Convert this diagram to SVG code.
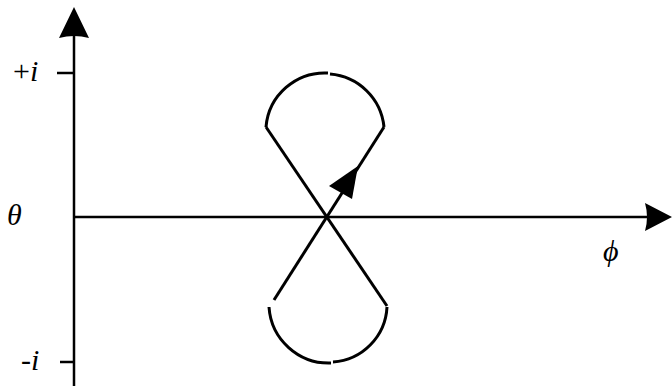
<svg xmlns="http://www.w3.org/2000/svg" width="672" height="386" viewBox="0 0 672 386">
<style>
.ax{stroke:#000;stroke-width:2.5;fill:none}
.ln{stroke:#000;stroke-width:3;fill:none;stroke-linecap:butt}
.lbl{font-family:"Liberation Serif","Times New Roman",serif;font-size:30px;fill:#000}
.it{font-style:italic}
</style>
<rect width="672" height="386" fill="#fff"/>
<g id="axes">
<line class="ax" x1="74" y1="36" x2="74" y2="386"/>
<path d="M74,7 L59,38 Q74,34 89,38 Z" fill="#000"/>
<line class="ax" x1="74" y1="217" x2="648" y2="217"/>
<path d="M672,217 L645,203 Q649,217 645,231 Z" fill="#000"/>
<line class="ax" x1="57" y1="73" x2="74" y2="73"/>
<line class="ax" x1="60" y1="362" x2="74" y2="362"/>
</g>
<g id="labels">
<text class="lbl" x="13" y="81">+<tspan class="it">i</tspan></text>
<text class="lbl it" x="7" y="225">θ</text>
<text class="lbl it" x="21" y="370">-i</text>
<text class="lbl it" x="603" y="261">ϕ</text>
</g>
<g id="curve">
<path class="ln" d="M266,127 A59,59 0 0 1 328,73"/>
<path class="ln" d="M330,74 A59,59 0 0 1 384,127"/>
<line class="ln" x1="266" y1="127" x2="387" y2="306"/>
<line class="ln" x1="274" y1="300" x2="384" y2="127"/>
<path class="ln" d="M269,307 A60,60 0 0 0 331,363"/>
<path class="ln" d="M333,362 A58,58 0 0 0 387,307"/>
<path d="M358,166 L329,186 L352,199 Z" fill="#000"/>
</g>
</svg>
